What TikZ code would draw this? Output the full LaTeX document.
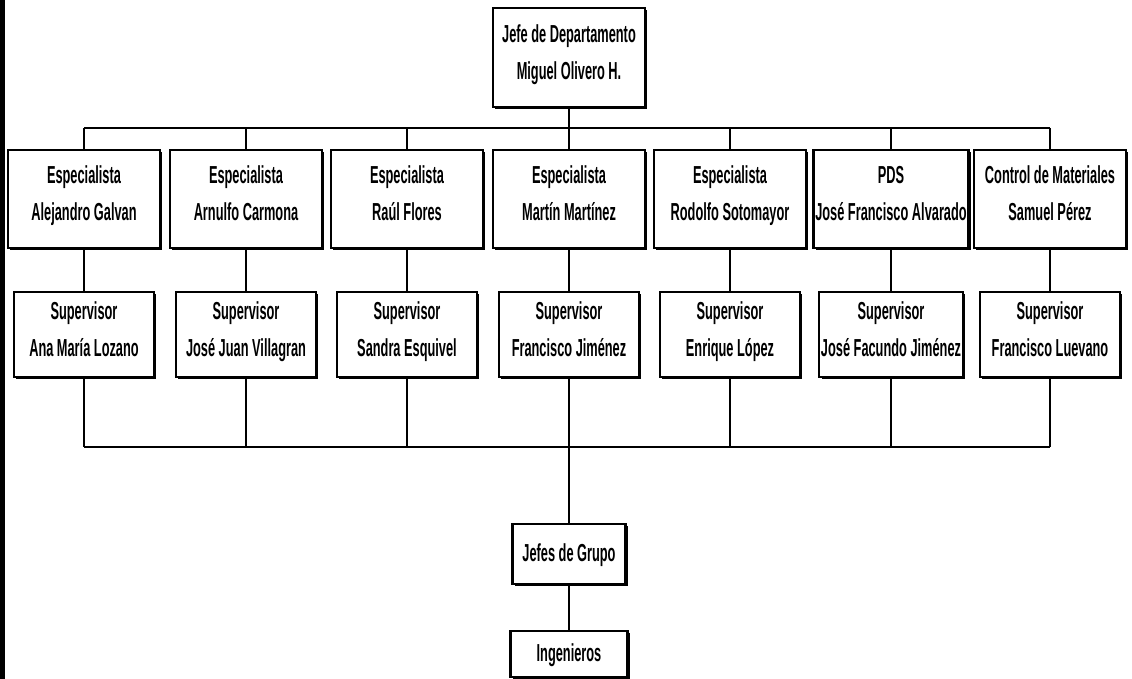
\documentclass[tikz,border=0pt]{standalone}
\usepackage{fontspec}
\setmainfont{Liberation Sans}[FakeStretch=0.52]
\usepackage{tikz}
\usetikzlibrary{shadows, positioning}
\tikzstyle{puesto} = [rectangle, draw=black, fill=white, line width=1.3pt, align=center, inner sep=1pt,
                      drop shadow={shadow xshift=1.3pt, shadow yshift=-1.3pt, fill=black, opacity=1},
                      font=\fontsize{14}{21}\selectfont\bfseries,
                      execute at begin node=\strut, execute at end node=\strut]
\tikzstyle{linea} = [line width=1.5pt]

\begin{document}
\begin{tikzpicture}
					\useasboundingbox (0, 0) rectangle (22.64, 13.58);
					\fill (0, 0) rectangle (0.1, 13.58);

					\node (Jefe) [puesto, minimum width=3.04cm, minimum height=1.98cm] at (11.38, 12.43) {Jefe de Departamento\\Miguel Olivero H.};
					\coordinate (TopBar) at (11.38, 11.02);
					\draw [linea] (Jefe) -- (TopBar);

					\node (Esp1) [puesto, minimum width=3.04cm, minimum height=1.96cm] at (1.68, 9.6) {Especialista\\Alejandro Galvan};
					\node (Esp2) [puesto, minimum width=3.04cm, minimum height=1.96cm] at (4.92, 9.6) {Especialista\\Arnulfo Carmona};
					\node (Esp3) [puesto, minimum width=3.04cm, minimum height=1.96cm] at (8.14, 9.6) {Especialista\\Raúl Flores};
					\node (Esp4) [puesto, minimum width=3.04cm, minimum height=1.96cm] at (11.38, 9.6) {Especialista\\Martín Martínez};
					\node (Esp5) [puesto, minimum width=3.04cm, minimum height=1.96cm] at (14.6, 9.6) {Especialista\\Rodolfo Sotomayor};
					\node (Esp6) [puesto, minimum width=3.04cm, minimum height=1.96cm] at (17.82, 9.6) {PDS\\José Francisco Alvarado};
					\node (Esp7) [puesto, minimum width=3.04cm, minimum height=1.96cm] at (21.0, 9.6) {Control de Materiales\\Samuel Pérez};

					\draw [linea] (Esp1 |- TopBar) -- (Esp7 |- TopBar);
					\draw [linea] (Esp1 |- TopBar) -- (Esp1);
					\draw [linea] (Esp2 |- TopBar) -- (Esp2);
					\draw [linea] (Esp3 |- TopBar) -- (Esp3);
					\draw [linea] (Esp4 |- TopBar) -- (Esp4);
					\draw [linea] (Esp5 |- TopBar) -- (Esp5);
					\draw [linea] (Esp6 |- TopBar) -- (Esp6);
					\draw [linea] (Esp7 |- TopBar) -- (Esp7);

					\node (Sup1) [puesto, minimum width=2.8cm, minimum height=1.7cm] at (1.68, 6.89) {Supervisor\\Ana María Lozano};
					\node (Sup2) [puesto, minimum width=2.8cm, minimum height=1.7cm] at (4.92, 6.89) {Supervisor\\José Juan Villagran};
					\node (Sup3) [puesto, minimum width=2.8cm, minimum height=1.7cm] at (8.14, 6.89) {Supervisor\\Sandra Esquivel};
					\node (Sup4) [puesto, minimum width=2.8cm, minimum height=1.7cm] at (11.38, 6.89) {Supervisor\\Francisco Jiménez};
					\node (Sup5) [puesto, minimum width=2.8cm, minimum height=1.7cm] at (14.6, 6.89) {Supervisor\\Enrique López};
					\node (Sup6) [puesto, minimum width=2.8cm, minimum height=1.7cm] at (17.82, 6.89) {Supervisor\\José Facundo Jiménez};
					\node (Sup7) [puesto, minimum width=2.8cm, minimum height=1.7cm] at (21.0, 6.89) {Supervisor\\Francisco Luevano};

					\draw [linea] (Esp1) -- (Sup1);
					\draw [linea] (Esp2) -- (Sup2);
					\draw [linea] (Esp3) -- (Sup3);
					\draw [linea] (Esp4) -- (Sup4);
					\draw [linea] (Esp5) -- (Sup5);
					\draw [linea] (Esp6) -- (Sup6);
					\draw [linea] (Esp7) -- (Sup7);

					\coordinate (BottomBar) at (11.38, 4.64);
					\draw [linea] (Sup1 |- BottomBar) -- (Sup7 |- BottomBar);
					\draw [linea] (Sup1) -- (Sup1 |- BottomBar);
					\draw [linea] (Sup2) -- (Sup2 |- BottomBar);
					\draw [linea] (Sup3) -- (Sup3 |- BottomBar);
					\draw [linea] (Sup4) -- (Sup4 |- BottomBar);
					\draw [linea] (Sup5) -- (Sup5 |- BottomBar);
					\draw [linea] (Sup6) -- (Sup6 |- BottomBar);
					\draw [linea] (Sup7) -- (Sup7 |- BottomBar);

					\node (Grupo) [puesto, minimum width=2.26cm, minimum height=1.2cm] at (11.38, 2.5) {Jefes de Grupo};
					\draw [linea] (BottomBar) -- (Grupo);

					\node (Ing) [puesto, minimum width=2.34cm, minimum height=0.92cm] at (11.38, 0.5) {Ingenieros};
					\draw [linea] (Grupo) -- (Ing);
				\end{tikzpicture}
\end{document}
